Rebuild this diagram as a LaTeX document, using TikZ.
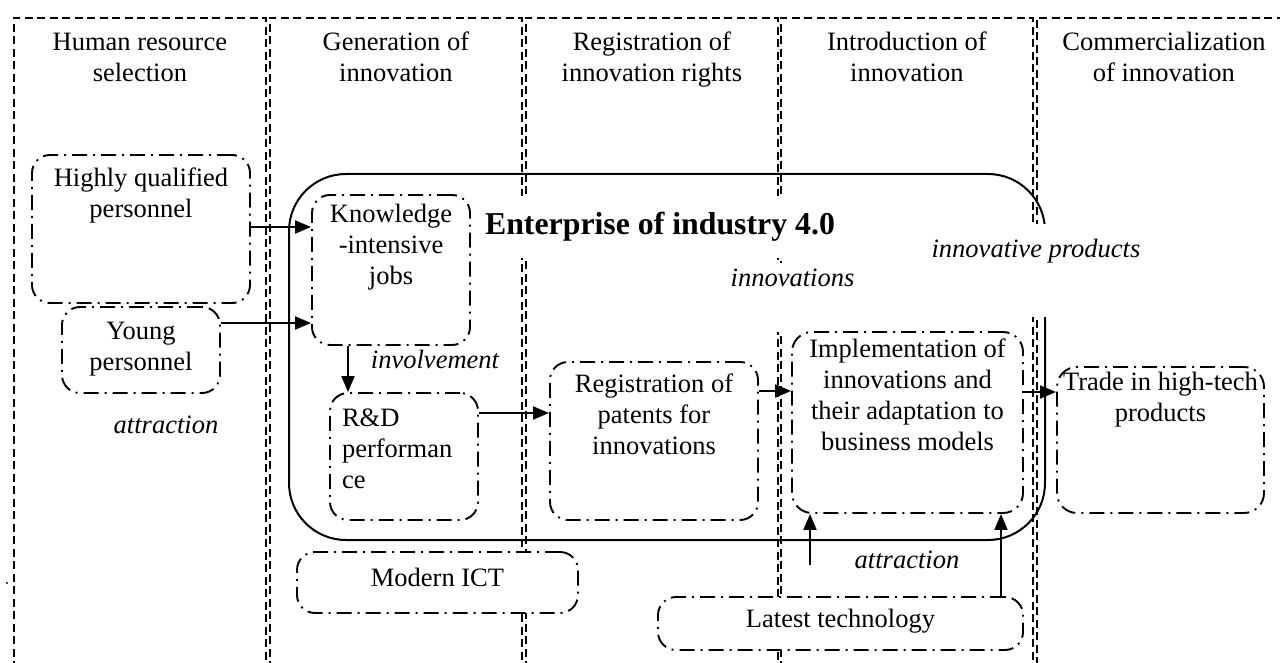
\documentclass[tikz,border=0pt]{standalone}
\usepackage{fontspec}
\setmainfont{Liberation Serif}
\usetikzlibrary{arrows.meta}

% body text size and a top-aligned block with a fixed first baseline
\newcommand\basefont{\fontsize{26.5}{31}\selectfont}
\newcommand\blocktext[5]{\parbox[c][#2pt][t]{#1pt}{#5\rule{0pt}{#3pt}#4}}

\tikzset{
  lane/.style={draw, line width=1.8pt, dash pattern=on 8pt off 4.5pt,
               inner sep=0, anchor=north west},
  stepbox/.style={draw, fill=white, line width=1.9pt,
                  dash pattern=on 15pt off 6pt on 2pt off 6pt,
                  rounded corners=18pt, inner sep=0},
  firmbox/.style={draw, line width=2pt, rounded corners=57pt, inner sep=0},
  cover/.style={fill=white, inner sep=0},
  arr/.style={line width=2pt, -{Triangle[length=16pt,width=13pt]}},
  lbl/.style={font=\basefont\itshape, inner sep=0, anchor=base},
  every node/.style={font=\basefont},
}

\begin{document}
\begin{tikzpicture}[x=1pt,y=-1pt]
\useasboundingbox[fill=white] (0,0) rectangle (1280,663);

% process stages as dashed columns
\begin{scope}
\clip (0,0) rectangle (1280,663);
\node[lane] (s1) at (13,17)   {\blocktext{252}{690}{33}{Human resource\\selection}{\centering}};
\node[lane] (s2) at (269,17)  {\blocktext{252}{690}{33}{Generation of\\innovation}{\centering}};
\node[lane] (s3) at (525,17)  {\blocktext{252}{690}{33}{Registration of\\innovation rights}{\centering}};
\node[lane] (s4) at (780,17)  {\blocktext{252}{690}{33}{Introduction of\\innovation}{\centering}};
\node[lane] (s5) at (1036,17) {\blocktext{254}{690}{33}{Commercialization\\of innovation}{\centering}};
\end{scope}

% the enterprise frame
\node[firmbox, minimum width=756pt, minimum height=366pt] (firm) at (667,357) {};

% labels with opaque backgrounds
\node[cover, font=\fontsize{31.8}{36}\selectfont\bfseries] (title) at (660,227)
  {\blocktext{360}{62}{39}{Enterprise of industry 4.0}{\centering}};
\node[cover, font=\basefont\itshape] (innov) at (792.5,297.5)
  {\blocktext{175}{69}{24}{innovations}{\centering}};
\node[cover, font=\basefont\itshape] (prod) at (1036,270.5)
  {\blocktext{270}{93}{33}{innovative products}{\centering}};

% process elements
\node[stepbox] (hq)  at (141,229)     {\blocktext{218}{148}{32}{Highly qualified\\personnel}{\centering}};
\node[stepbox] (yp)  at (141,350)     {\blocktext{158}{86}{32}{Young\\personnel}{\centering}};
\node[stepbox] (kn)  at (391,270)     {\blocktext{158}{150}{27}{Knowledge\\-intensive\\jobs}{\centering}};
\node[stepbox] (rd)  at (404,456.5)   {\blocktext{148}{127}{33}{R\&D\\performan\\ce}{\raggedright\leftskip=12pt}};
\node[stepbox] (reg) at (654,441)     {\blocktext{208}{158}{30}{Registration of\\patents for\\innovations}{\centering}};
\node[stepbox, rounded corners=20pt] (imp) at (907.5,422.5)
  {\blocktext{231}{181}{25}{Implementation of\\innovations and\\their adaptation to\\business models}{\centering}};
\node[stepbox, rounded corners=20pt] (tr) at (1160.5,440)
  {\blocktext{207}{146}{23}{Trade in high-tech\\products}{\centering}};
\node[stepbox] (ict) at (437.5,582.5) {\blocktext{281}{61}{34}{Modern ICT}{\centering}};
\node[stepbox] (lt)  at (840.5,623.5) {\blocktext{365}{53}{30}{Latest technology}{\centering}};

% flows
\draw[arr] (hq.east |- 0,227) -- (kn.west |- 0,227);
\draw[arr] (yp.east |- 0,323) -- (kn.west |- 0,323);
\draw[arr] (kn.south -| 348,0) -- (rd.north -| 348,0);
\draw[arr] (rd.east |- 0,413) -- (reg.west |- 0,413);
\draw[arr] (reg.east |- 0,391) -- (imp.west |- 0,391);
\draw[arr] (imp.east |- 0,392) -- (tr.west |- 0,392);
\coordinate (techin) at (810,565);
\draw[arr] (techin) -- (imp.south -| techin);
\draw[arr] (lt.north -| 1001,0) -- (imp.south -| 1001,0);

% flow labels
\node[lbl] (inv)  at (435,368) {involvement};
\node[lbl] (att1) at (166,433) {attraction};
\node[lbl] (att2) at (907,568) {attraction};

\fill (7,583) circle (1.2);
\end{tikzpicture}
\end{document}
